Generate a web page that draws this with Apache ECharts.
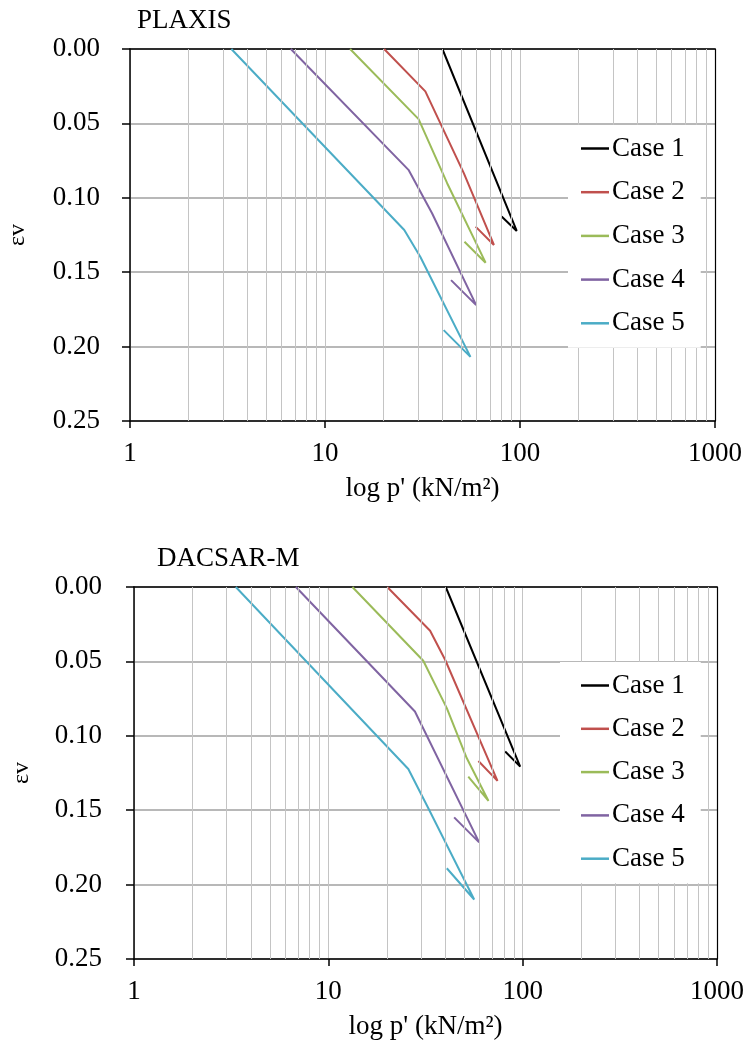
<!DOCTYPE html>
<html>
<head>
<meta charset="utf-8">
<script src="https://cdn.jsdelivr.net/npm/echarts@6/dist/echarts.min.js"></script>
<style>html,body{margin:0;padding:0;background:#fff}#c{width:746px;height:1046px}</style>
</head>
<body>
<div id="c"></div>
<script>
// ---- data (p' in kN/m2, volumetric strain) ----
const caseNames = ['Case 1', 'Case 2', 'Case 3', 'Case 4', 'Case 5'];
const caseColors = ['#000000', '#c0504d', '#9bbb59', '#8064a2', '#4bacc6'];
const chartTitles = ['PLAXIS', 'DACSAR-M'];
const yTickLabels = ['0.00', '0.05', '0.10', '0.15', '0.20', '0.25'];
const minorTickValues = [2,3,4,5,6,7,8,9,20,30,40,50,60,70,80,90,200,300,400,500,600,700,800,900];

const plaxisCase1 = [[40.0, 0], [96.2, 0.1223], [80.5, 0.1126]];
const plaxisCase2 = [[20.1, 0], [32.7, 0.0285], [51.5, 0.0834], [73.5, 0.1317], [59.2, 0.1194]];
const plaxisCase3 = [[13.45, 0], [30.2, 0.0471], [42.3, 0.0902], [66.6, 0.1436], [51.9, 0.1295]];
const plaxisCase4 = [[6.68, 0], [26.8, 0.0812], [35.4, 0.1104], [59.6, 0.1721], [44.3, 0.1553]];
const plaxisCase5 = [[3.31, 0], [25.5, 0.1216], [30.8, 0.1396], [55.7, 0.2069], [40.6, 0.1889]];

const dacsarCase1 = [[40.2, 0], [97.1, 0.1207], [81.3, 0.1106]];
const dacsarCase2 = [[20.1, 0], [33.4, 0.0294], [39.9, 0.0489], [74.2, 0.1303], [59.2, 0.1169]];
const dacsarCase3 = [[13.3, 0], [30.8, 0.0496], [40.7, 0.0814], [51.6, 0.1151], [66.7, 0.1438], [52.5, 0.1274]];
const dacsarCase4 = [[6.81, 0], [27.9, 0.0837], [59.7, 0.1716], [44.4, 0.1548]];
const dacsarCase5 = [[3.34, 0], [25.8, 0.1223], [32.7, 0.1487], [56.3, 0.2100], [40.7, 0.1890]];

const plaxisData = [plaxisCase1, plaxisCase2, plaxisCase3, plaxisCase4, plaxisCase5];
const dacsarData = [dacsarCase1, dacsarCase2, dacsarCase3, dacsarCase4, dacsarCase5];

// ---- styling ----
const FONT = '"Liberation Serif", "Times New Roman", serif';
const grids = [
  { left: 130, top: 49, right: 31, height: 372, outerBoundsMode: 'none', containLabel: false },
  { left: 134, top: 587, right: 29, height: 372, outerBoundsMode: 'none', containLabel: false }
];

function mainX(gi) {
  return {
    type: 'log', logBase: 10, min: 1, max: 1000, gridIndex: gi, position: 'bottom',
    name: "log p' (kN/m²)", nameLocation: 'middle', nameGap: 54,
    nameTextStyle: { fontFamily: FONT, fontSize: 27, color: '#000' },
    axisLine: { onZero: false, lineStyle: { color: '#000', width: 1.5 } },
    axisTick: { show: true, inside: false, length: 7, lineStyle: { color: '#000', width: 1.5 } },
    axisLabel: { margin: 19, fontFamily: FONT, fontSize: 27, color: '#000',
      formatter: function (v) { return String(Math.round(v)); } },
    splitLine: { show: true, lineStyle: { color: '#c4c4c4', width: 1 } },
    minorTick: { show: false }, minorSplitLine: { show: false }
  };
}
function borderX(gi) {
  return {
    type: 'log', logBase: 10, min: 1, max: 1000, gridIndex: gi, position: 'top',
    axisLine: { onZero: false, lineStyle: { color: '#000', width: 1.5 } },
    axisTick: { show: false }, axisLabel: { show: false }, splitLine: { show: false }
  };
}
function mainY(gi, margin) {
  return {
    type: 'value', min: 0, max: 0.25, interval: 0.05, inverse: true, gridIndex: gi, position: 'left',
    name: 'εv', nameLocation: 'middle', nameGap: 100, nameRotate: 90, nameMoveOverlap: false,
    nameTextStyle: { fontFamily: FONT, fontSize: 24, color: '#000' },
    axisLine: { show: true, onZero: false, lineStyle: { color: '#000', width: 1.5 } },
    axisTick: { show: true, inside: false, length: 8, lineStyle: { color: '#000', width: 1.5 } },
    axisLabel: { margin: margin, fontFamily: FONT, fontSize: 27, color: '#000',
      formatter: function (v) { return yTickLabels[Math.round(v / 0.05)]; } },
    splitLine: { show: true, lineStyle: { color: '#a0a0a0', width: 1.5 } }
  };
}
function borderY(gi) {
  return {
    type: 'value', min: 0, max: 0.25, interval: 0.05, inverse: true, gridIndex: gi, position: 'right',
    axisLine: { show: true, onZero: false, lineStyle: { color: '#000', width: 1.2 } },
    axisTick: { show: false }, axisLabel: { show: false }, splitLine: { show: false }
  };
}

const series = [];
[plaxisData, dacsarData].forEach(function (set, gi) {
  series.push({
    type: 'line', name: 'minor' + gi, xAxisIndex: gi * 2, yAxisIndex: gi * 2, data: [], z: 1,
    silent: true, animation: false,
    markLine: {
      silent: true, animation: false, symbol: ['none', 'none'], label: { show: false },
      lineStyle: { color: '#c4c4c4', width: 1, type: 'solid' },
      emphasis: { disabled: true },
      data: minorTickValues.map(function (v) { return { xAxis: v }; })
    }
  });
  set.forEach(function (d, i) {
    series.push({
      type: 'line', name: caseNames[i], xAxisIndex: gi * 2, yAxisIndex: gi * 2, data: d,
      symbol: 'none', showSymbol: false, animation: false, z: 3,
      color: caseColors[i], lineStyle: { color: caseColors[i], width: 2 }
    });
  });
});

const legendBase = {
  orient: 'vertical', backgroundColor: '#fff', itemWidth: 28, itemHeight: 2.5,
  selectedMode: false, z: 10, icon: 'rect',
  textStyle: { fontFamily: FONT, fontSize: 27, color: '#000', lineHeight: 27, padding: [0, 0, 0, -2] },
  data: caseNames.map(function (n, i) { return { name: n, icon: 'rect', itemStyle: { color: caseColors[i] } }; })
};

const option = {
  backgroundColor: '#fff',
  animation: false,
  title: [
    { text: chartTitles[0], left: 137, top: 7, padding: 0, textStyle: { fontFamily: FONT, fontSize: 27, fontWeight: 'normal', color: '#000' } },
    { text: chartTitles[1], left: 157, top: 545, padding: 0, textStyle: { fontFamily: FONT, fontSize: 27, fontWeight: 'normal', color: '#000' } }
  ],
  legend: [
    Object.assign({}, legendBase, { left: 568, top: 125, itemGap: 16.7, padding: [10, 16, 11, 13] }),
    Object.assign({}, legendBase, { left: 560, top: 662, itemGap: 16.3, padding: [10, 16, 11, 21] })
  ],
  grid: grids,
  xAxis: [mainX(0), borderX(0), mainX(1), borderX(1)],
  yAxis: [mainY(0, 30), borderY(0), mainY(1, 32), borderY(1)],
  series: series
};

const chart = echarts.init(document.getElementById('c'), null, { renderer: 'canvas' });
chart.setOption(option);
</script>
</body>
</html>
